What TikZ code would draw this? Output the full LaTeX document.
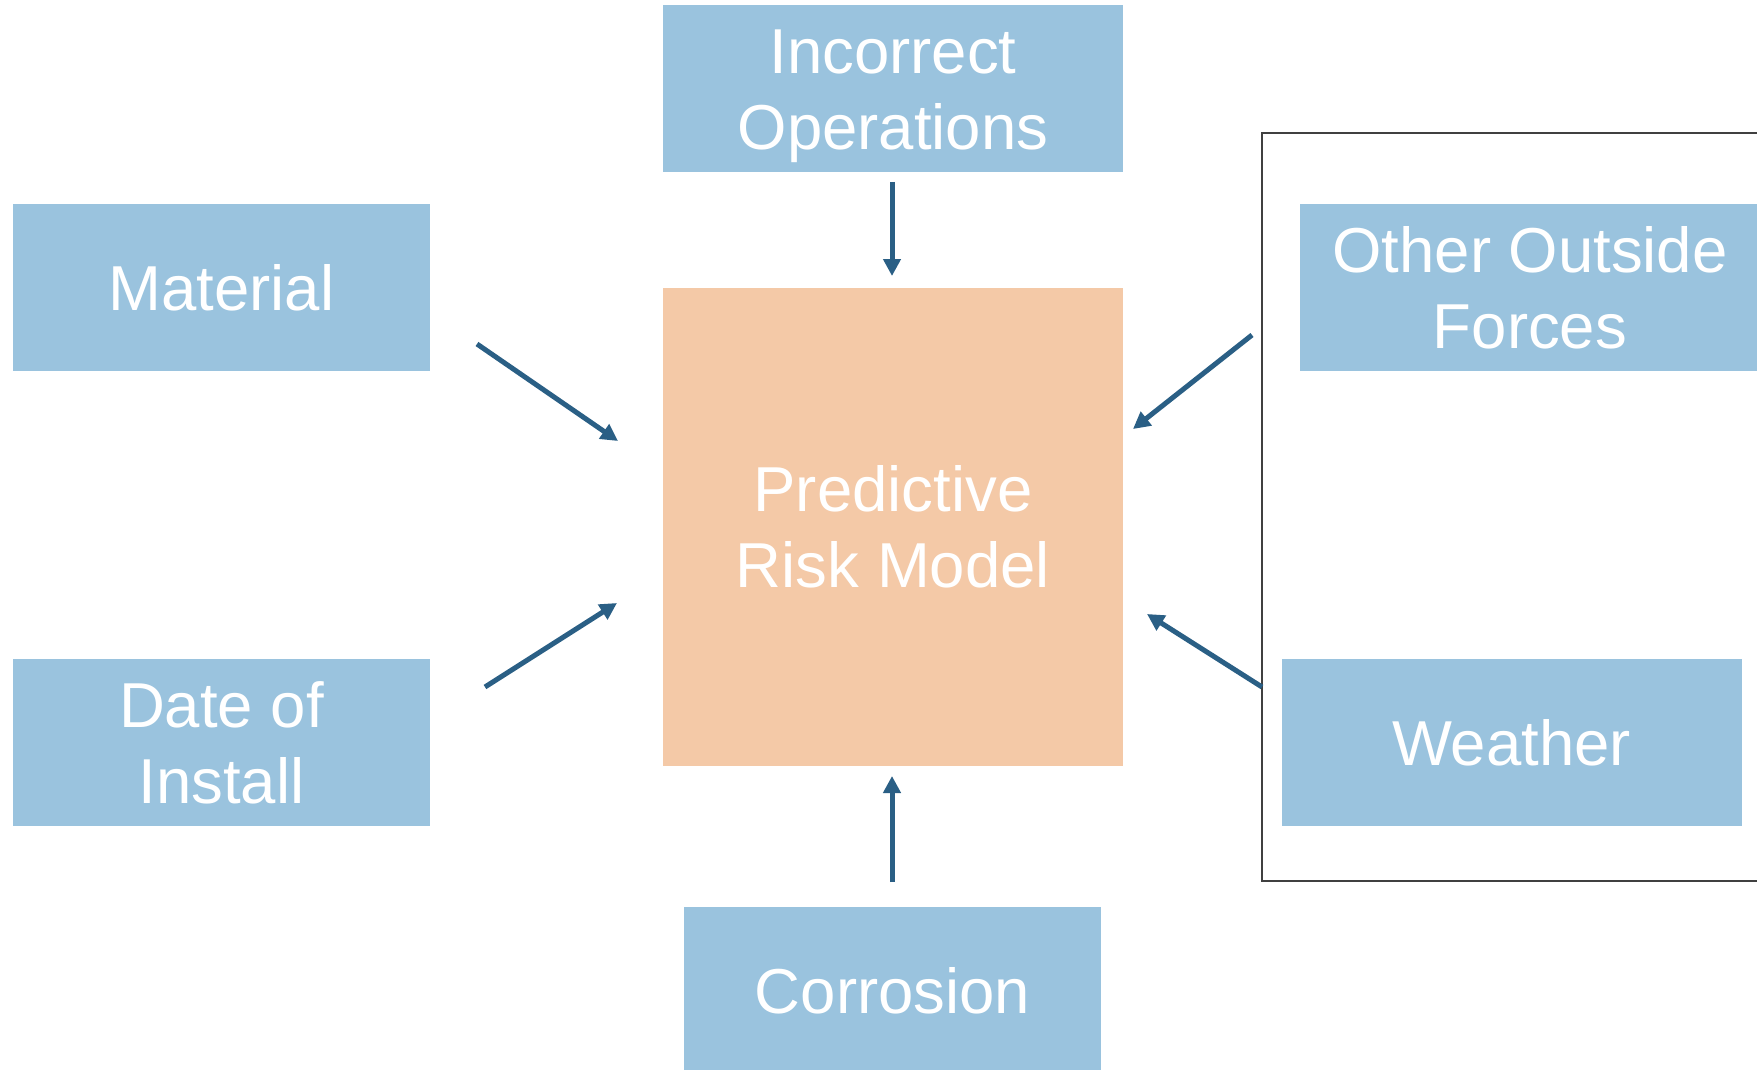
\documentclass[tikz,border=0pt]{standalone}
\usepackage{fontspec}
\setmainfont{Liberation Sans}
\usetikzlibrary{arrows.meta}
\definecolor{boxblue}{HTML}{9AC3DE}
\definecolor{boxorange}{HTML}{F4C9A7}
\definecolor{arrowblue}{HTML}{2A5F85}
\definecolor{framegray}{HTML}{404040}
\tikzset{
  card/.style={rectangle, inner sep=0pt, outer sep=0pt, text=white,
    font=\fontsize{63.5}{76}\selectfont, align=center, text depth=0pt},
  oneline/.style={text height=45.5pt},
  twoline/.style={text height=121.5pt},
  factor/.style={card, fill=boxblue, minimum height=167pt, minimum width=#1},
  factor/.default=460pt,
  core/.style={card, fill=boxorange, minimum width=460pt, minimum height=478pt},
  feed/.style={draw=arrowblue, line width=5pt, -{Triangle[length=17pt,width=17pt]}},
  group/.style={draw=framegray, line width=1.5pt}
}
\begin{document}
\begin{tikzpicture}[x=1pt,y=-1pt]
  \useasboundingbox[fill=white] (0,0) rectangle (1757,1070);

  % frame around the external factors
  \draw[group] (1780,133) -- (1262,133) -- (1262,881) -- (1780,881);

  % central model
  \node[core, twoline] (risk) at (893,527) {Predictive\\Risk Model};

  % contributing factors
  \node[factor, twoline] (ops) at (893,88.5) {Incorrect\\Operations};
  \node[factor=417pt, oneline] (mat) at (221.5,287.5) {Material};
  \node[factor=417pt, twoline] (date) at (221.5,742.5) {Date of\\Install};
  \node[factor=417pt, oneline] (corr) at (892.5,990.5) {Corrosion};
  \node[factor, twoline] (other) at (1530,287.5) {Other Outside\\Forces};
  \node[factor, oneline] (wea) at (1511.5,742.5) {Weather};

  % arrow end points
  \coordinate (opsA) at (892,182);   \coordinate (opsB) at (892,276);
  \coordinate (matA) at (477,344);   \coordinate (matB) at (618,441);
  \coordinate (dateA) at (485,687);  \coordinate (dateB) at (617,603);
  \coordinate (corrA) at (892,882);  \coordinate (corrB) at (892,776);
  \coordinate (otherA) at (1252,335); \coordinate (otherB) at (1133,429);
  \coordinate (weaA) at (1262,687);  \coordinate (weaB) at (1147,614);

  % influences on the model
  \draw[feed] (opsA) -- (opsB);
  \draw[feed] (matA) -- (matB);
  \draw[feed] (dateA) -- (dateB);
  \draw[feed] (corrA) -- (corrB);
  \draw[feed] (otherA) -- (otherB);
  \draw[feed] (weaA) -- (weaB);
\end{tikzpicture}
\end{document}
